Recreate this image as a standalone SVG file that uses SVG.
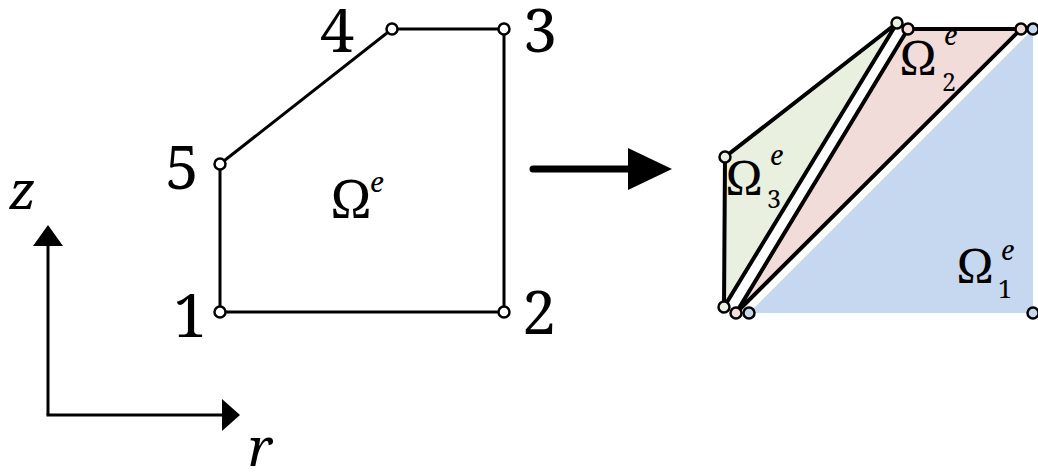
<svg xmlns="http://www.w3.org/2000/svg" width="1038" height="472" viewBox="0 0 1038 472">
<style>
text{font-family:'Noto Serif','Liberation Serif','DejaVu Serif',serif;fill:#000}
.d{font-size:61px}
.ax{font-size:53px;font-style:italic}
.i{font-style:italic}
.om{font-size:48px}
.sup{font-size:27px;font-style:italic}
.sub{font-size:25px}
.edge{fill:none;stroke:#000;stroke-width:3;stroke-linejoin:miter}
.nd{fill:#fff;stroke:#000;stroke-width:2.5}
.tri{stroke:#000;stroke-width:4;stroke-linejoin:miter}
.g{fill:#e9f0df}
.p{fill:#f2dcda}
.b{fill:#c6d8ef}
.nb{stroke:#000;stroke-width:2.5}
</style>
<rect width="1038" height="472" fill="#fff"/>
<g id="axes">
<line x1="48" y1="415" x2="48" y2="243" stroke="#000" stroke-width="3"/>
<polygon points="48,225 33,246 63,246" fill="#000"/>
<line x1="46.5" y1="415" x2="225" y2="415" stroke="#000" stroke-width="3"/>
<polygon points="240,415 222,399 222,431" fill="#000"/>
<text class="ax" x="9" y="209">z</text>
<text class="ax" x="248" y="466">r</text>
</g>
<g id="element">
<polygon class="edge" points="220,312 504,312 504,29 392,29 220,164"/>
<circle class="nd" cx="220" cy="312" r="5.5"/>
<circle class="nd" cx="504" cy="312" r="5.5"/>
<circle class="nd" cx="504" cy="29" r="5.5"/>
<circle class="nd" cx="392" cy="29" r="5.5"/>
<circle class="nd" cx="220" cy="164" r="5.5"/>
<text class="d" x="173" y="337">1</text>
<text class="d" x="522" y="334">2</text>
<text class="d" x="523" y="52">3</text>
<text class="d" x="320" y="52">4</text>
<text class="d" x="165" y="189">5</text>
<text x="331" y="218" font-size="53">Ω</text>
<text class="i" x="370" y="192" font-size="28">e</text>
</g>
<g id="arrow">
<line x1="533" y1="169" x2="632" y2="169" stroke="#000" stroke-width="7" stroke-linecap="round"/>
<polygon points="672,169 628,148 628,190" fill="#000"/>
</g>
<g id="omega1">
<polygon class="b" points="749,313 1033,313 1033,29"/>
<text class="om" x="957" y="283">Ω</text>
<text class="sup" x="1001" y="260">e</text>
<text class="sub" x="998" y="298">1</text>
</g>
<g id="omega2">
<polygon class="tri p" points="736,313 1021,29 908,29"/>
<text class="om" x="900" y="75">Ω</text>
<text class="sup" x="944" y="45">e</text>
<text class="sub" x="942" y="91">2</text>
</g>
<g id="omega3">
<polygon class="tri g" points="724,307 725,157 897,23"/>
<text class="om" x="726" y="195">Ω</text>
<text class="sup" x="770" y="165">e</text>
<text class="sub" x="767" y="208">3</text>
</g>
<g id="nodes">
<circle class="nb g" cx="725" cy="157" r="5.5"/>
<circle class="nb g" cx="897" cy="23" r="5.5"/>
<circle class="nb g" cx="724" cy="307" r="5.5"/>
<circle class="nb p" cx="908" cy="29" r="5.5"/>
<circle class="nb p" cx="1021" cy="29" r="5.5"/>
<circle class="nb p" cx="736" cy="313" r="5.5"/>
<circle class="nb b" cx="749" cy="313" r="5.5"/>
<circle class="nb b" cx="1033" cy="313" r="5.5"/>
<circle class="nb b" cx="1033" cy="29" r="5.5"/>
</g>
</svg>
